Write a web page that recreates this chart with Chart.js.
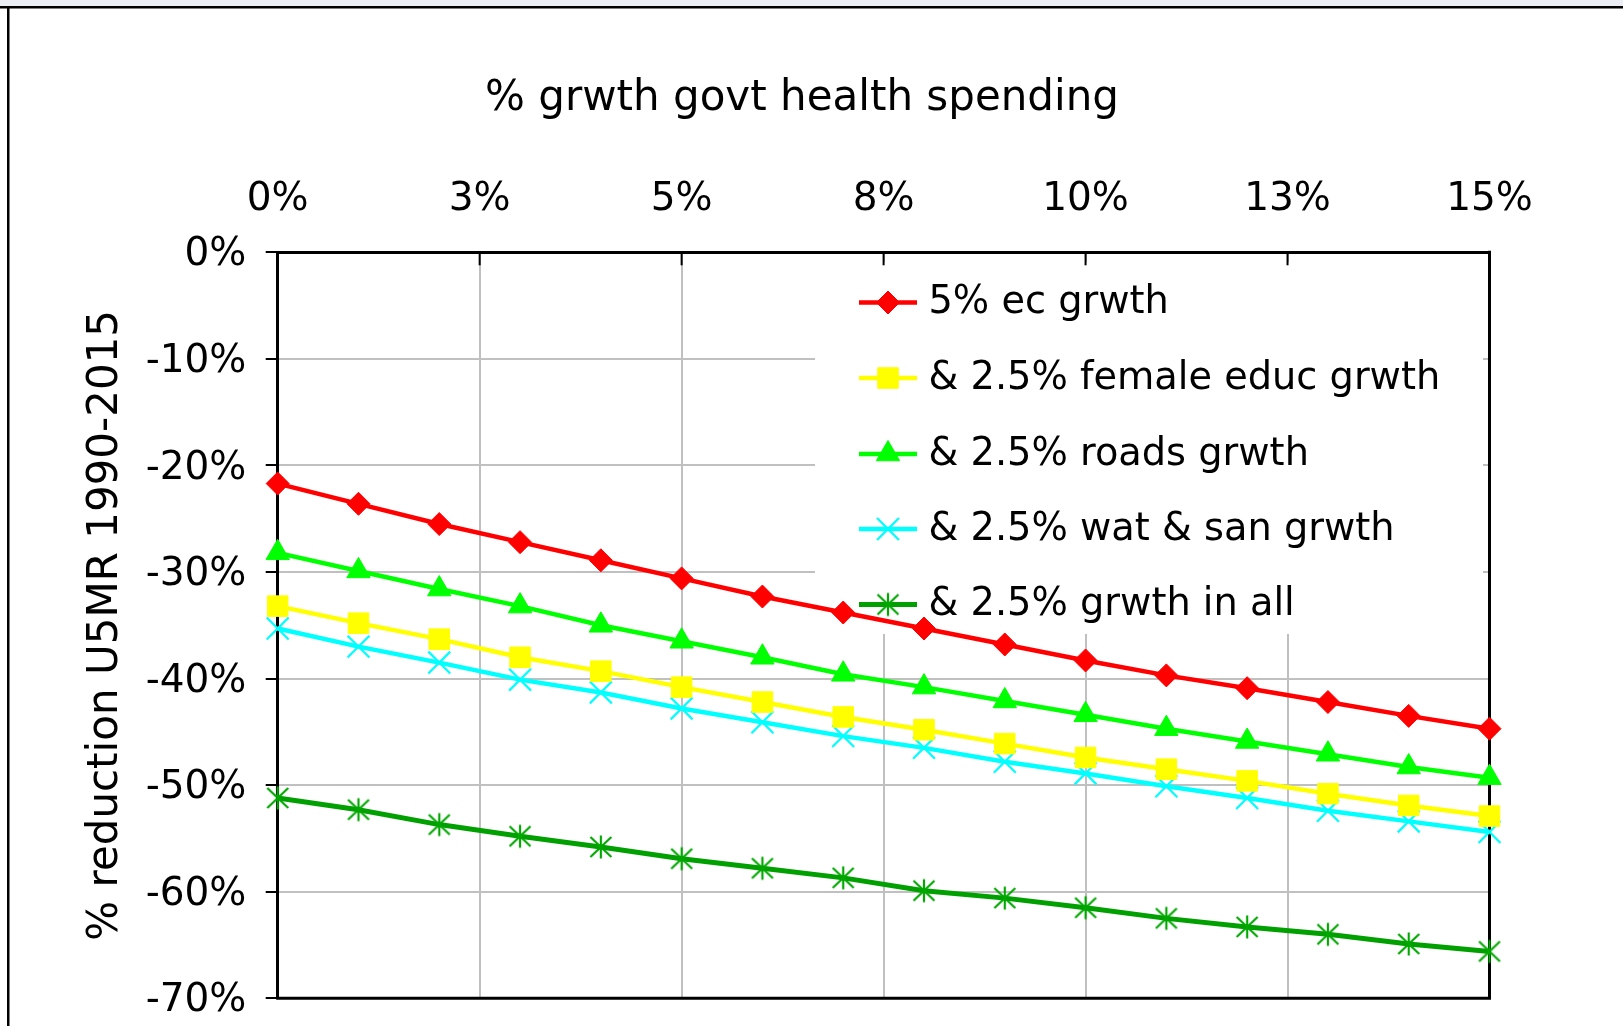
<!DOCTYPE html>
<html>
<head>
<meta charset="utf-8">
<script src="https://cdn.jsdelivr.net/npm/chart.js@4.4.1/dist/chart.umd.min.js"></script>
<style>
html,body{margin:0;padding:0;background:#fff;overflow:hidden}
canvas{display:block}
</style>
</head>
<body>
<canvas id="c" width="1623" height="1026"></canvas>
<script>
// ---- data ----
const xValues = [0, 1, 2, 3, 4, 5, 6, 7, 8, 9, 10, 11, 12, 13, 14, 15];
const xTickLabels = ['0%', '3%', '5%', '8%', '10%', '13%', '15%'];
const yTickLabels = ['-70%', '-60%', '-50%', '-40%', '-30%', '-20%', '-10%', '0%'];
const seriesNames = ['5% ec grwth', '& 2.5% female educ grwth', '& 2.5% roads grwth', '& 2.5% wat & san grwth', '& 2.5% grwth in all'];
const ecGrowth     = [-21.7, -23.6, -25.5, -27.2, -28.9, -30.6, -32.3, -33.8, -35.3, -36.8, -38.3, -39.7, -40.9, -42.2, -43.5, -44.7];
const femaleEduc   = [-33.2, -34.8, -36.3, -38.0, -39.3, -40.8, -42.2, -43.6, -44.8, -46.1, -47.4, -48.5, -49.6, -50.8, -51.9, -52.9];
const roads        = [-28.2, -29.9, -31.6, -33.2, -35.0, -36.5, -38.0, -39.6, -40.8, -42.1, -43.4, -44.7, -45.9, -47.1, -48.3, -49.3];
const watSan       = [-35.3, -37.0, -38.5, -40.1, -41.3, -42.8, -44.1, -45.4, -46.5, -47.8, -48.9, -50.1, -51.2, -52.4, -53.4, -54.4];
const growthInAll  = [-51.2, -52.3, -53.7, -54.8, -55.8, -56.9, -57.8, -58.7, -59.9, -60.6, -61.5, -62.5, -63.3, -64.0, -64.9, -65.6];
const titleText = '% grwth govt health spending';
const yTitleText = '% reduction U5MR 1990-2015';

const FONT = '"DejaVu Sans", Verdana, sans-serif';
const toPoints = arr => xValues.map((x, i) => ({x: x, y: arr[i]}));

// Excel-like star marker: X plus vertical bar
function starMarker(color) {
  const c = document.createElement('canvas');
  c.width = 26; c.height = 26;
  const g = c.getContext('2d');
  g.strokeStyle = color;
  g.lineWidth = 2.2;
  g.beginPath();
  g.moveTo(13, 1.5); g.lineTo(13, 24.5);
  g.moveTo(2.5, 3); g.lineTo(23.5, 23);
  g.moveTo(23.5, 3); g.lineTo(2.5, 23);
  g.stroke();
  return c;
}

function makeDataset(label, values, color, lineColor, style, radius, bw) {
  return {
    label: label,
    data: toPoints(values),
    borderColor: lineColor,
    backgroundColor: color,
    borderWidth: 4.5,
    pointStyle: style,
    pointRadius: radius,
    pointHoverRadius: radius,
    pointBackgroundColor: color,
    pointBorderColor: color,
    pointBorderWidth: bw,
    tension: 0,
    clip: false
  };
}

const datasets = [
  makeDataset(seriesNames[0], ecGrowth, '#ff0000', '#ff0000', 'rectRot', 11.5, 1),
  makeDataset(seriesNames[1], femaleEduc, '#ffff00', '#ffff00', 'rect', 14.5, 1),
  makeDataset(seriesNames[2], roads, '#00ff00', '#00ff00', 'triangle', 13.5, 1),
  makeDataset(seriesNames[3], watSan, '#00ffff', '#00ffff', 'crossRot', 15.5, 2.2),
  makeDataset(seriesNames[4], growthInAll, '#00a800', '#00a000', starMarker('#00a800'), 13, 0)
];
datasets[4].borderWidth = 5;

// ---- plugins ----
const framePlugin = {
  id: 'frame',
  beforeDraw(chart) {
    const ctx = chart.ctx;
    ctx.save();
    ctx.fillStyle = '#ffffff';
    ctx.fillRect(0, 0, chart.width, chart.height);
    ctx.fillStyle = '#eceef6';
    ctx.fillRect(0, 0, chart.width, 6);
    ctx.fillStyle = '#000000';
    ctx.fillRect(0, 6, chart.width, 2.5);
    ctx.fillRect(7, 6, 2.5, chart.height);
    ctx.restore();
  }
};

function drawMarker(ctx, ds, x, y) {
  const opts = {pointStyle: ds.pointStyle, radius: ds.pointRadius, borderWidth: ds.pointBorderWidth, rotation: 0};
  ctx.fillStyle = ds.pointBackgroundColor;
  ctx.strokeStyle = ds.pointBorderColor;
  ctx.lineWidth = ds.pointBorderWidth;
  Chart.helpers.drawPoint(ctx, opts, x, y);
}

const boxLegendPlugin = {
  id: 'boxLegend',
  beforeDatasetsDraw(chart) {
    const ctx = chart.ctx;
    const a = chart.chartArea;
    ctx.save();
    // legend background (hides grid lines)
    ctx.fillStyle = '#ffffff';
    ctx.fillRect(815, 262, 1483 - 815, 634 - 262);
    // right and bottom plot border
    ctx.strokeStyle = '#000';
    ctx.lineWidth = 3;
    ctx.beginPath();
    ctx.moveTo(a.right, a.top - 1.5);
    ctx.lineTo(a.right, a.bottom);
    ctx.lineTo(a.left - 1.5, a.bottom);
    ctx.stroke();
    // inward ticks on the top axis
    const xs = chart.scales.x;
    ctx.lineWidth = 2;
    xs.ticks.forEach(t => {
      const px = xs.getPixelForValue(t.value);
      ctx.beginPath();
      ctx.moveTo(px, a.top);
      ctx.lineTo(px, a.top + 13);
      ctx.stroke();
    });
    // legend entries
    const rowY = [302.5, 378, 454, 529, 604.5];
    chart.data.datasets.forEach((ds, i) => {
      const y = rowY[i];
      ctx.strokeStyle = ds.borderColor;
      ctx.lineWidth = ds.borderWidth;
      ctx.beginPath();
      ctx.moveTo(859, y);
      ctx.lineTo(917, y);
      ctx.stroke();
      drawMarker(ctx, ds, 888, y);
      ctx.fillStyle = '#000';
      ctx.font = '38.3px ' + FONT;
      ctx.textBaseline = 'middle';
      ctx.textAlign = 'left';
      ctx.fillText(ds.label, 928.5, y + 1);
    });
    ctx.restore();
  }
};

Chart.defaults.color = '#000';
Chart.defaults.font.family = FONT;

new Chart(document.getElementById('c'), {
  type: 'line',
  data: { datasets: datasets },
  options: {
    responsive: false,
    devicePixelRatio: 1,
    animation: false,
    layout: { padding: { left: 0, top: 0, right: 19, bottom: 27.7 } },
    plugins: {
      legend: { display: false },
      tooltip: { enabled: false },
      title: {
        display: true,
        text: titleText,
        color: '#000',
        font: { family: FONT, size: 42, weight: 'normal' },
        padding: { top: 73.8, bottom: 0 }
      }
    },
    scales: {
      x: {
        type: 'linear',
        position: 'top',
        min: 0,
        max: 15,
        afterBuildTicks: s => { s.ticks = xTickLabels.map((l, i) => ({value: i * 2.5})); },
        ticks: {
          autoSkip: false,
          maxRotation: 0,
          padding: 29,
          font: { size: 39 },
          color: '#000',
          callback: (v, i) => xTickLabels[i]
        },
        grid: { color: '#c0c0c0', lineWidth: 2, drawTicks: false },
        border: { display: true, color: '#000', width: 3 },
        afterFit: s => { s.height = 252.3 - 124.2; }
      },
      y: {
        type: 'linear',
        position: 'left',
        min: -70,
        max: 0,
        afterBuildTicks: s => { s.ticks = yTickLabels.map((l, i) => ({value: -70 + i * 10})); },
        ticks: {
          autoSkip: false,
          padding: 19.3,
          labelOffset: 3,
          font: { size: 39 },
          color: '#000',
          callback: (v, i) => yTickLabels[i]
        },
        grid: { color: '#c0c0c0', lineWidth: 2, drawTicks: true, tickLength: 12, tickColor: '#000', tickWidth: 2 },
        border: { display: true, color: '#000', width: 3 },
        title: {
          display: true,
          text: yTitleText,
          color: '#000',
          font: { family: FONT, size: 42, weight: 'normal' },
          padding: { top: 80.5, bottom: 0 }
        },
        afterFit: s => { s.width = 277.7; s.paddingTop = 0; s.paddingBottom = 0; }
      },
      yR: {
        type: 'linear',
        position: 'right',
        display: true,
        min: 0,
        max: 1,
        ticks: { display: false },
        grid: { display: false, drawTicks: false },
        border: { display: false },
        afterFit: s => { s.width = 114.5; s.paddingTop = 0; s.paddingBottom = 0; }
      }
    }
  },
  plugins: [framePlugin, boxLegendPlugin]
});
</script>
</body>
</html>
